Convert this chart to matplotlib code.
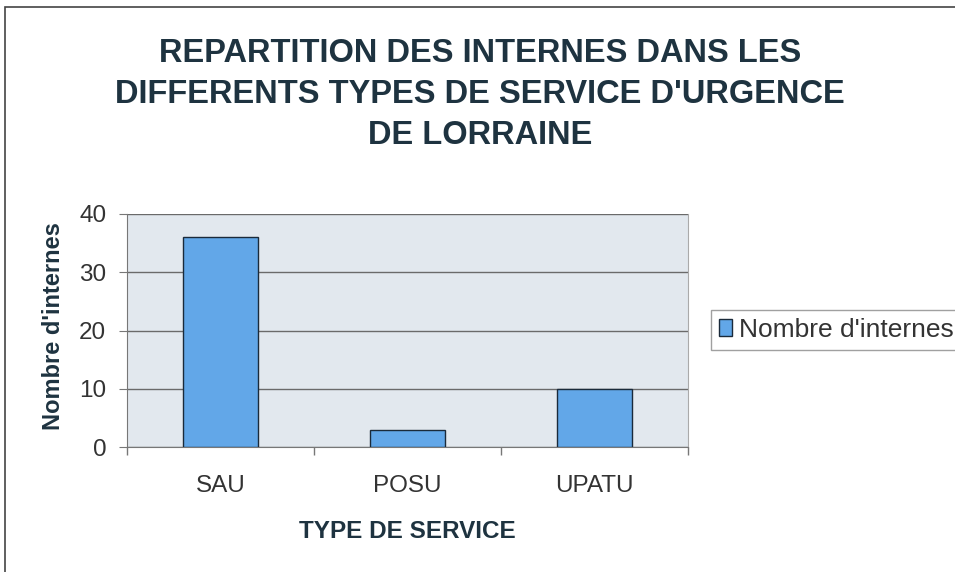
import matplotlib
matplotlib.use("Agg")
import matplotlib.pyplot as plt
from matplotlib.patches import Rectangle, Patch

categories = ["SAU", "POSU", "UPATU"]
values = [36, 3, 10]
yticks = [0, 10, 20, 30, 40]
series_name = "Nombre d'internes"
title = "REPARTITION DES INTERNES DANS LES\nDIFFERENTS TYPES DE SERVICE D'URGENCE\nDE LORRAINE"

plt.rcParams['font.family'] = ['Liberation Sans', 'DejaVu Sans']

fig = plt.figure(figsize=(9.55, 5.72), dpi=100)
fig.patch.set_facecolor('white')

# outer chart frame
fig.patches.append(Rectangle((5/955, -0.01), 1.1, 1 - 7/572 + 0.01, transform=fig.transFigure,
                             fill=False, edgecolor='#444444', linewidth=1.2))

ax = fig.add_axes([127/955, 1 - 447/572, (688 - 127)/955, (447 - 214)/572])
ax.set_facecolor('#e2e8ee')

x = list(range(len(categories)))
bars = ax.bar(x, values, width=0.4, color='#62a7e8', edgecolor='#1a2a3a', linewidth=1.0,
              zorder=3, label=series_name)

ax.set_xlim(-0.5, len(categories) - 0.5)
ax.set_ylim(0, 40)
ax.set_yticks(yticks)
ax.yaxis.grid(True, color='#6a6a6a', linewidth=1.0, zorder=1)
ax.set_axisbelow(True)

ax.set_xticks(x)
ax.set_xticklabels(categories, fontsize=17.5, color='#333333')
ax.tick_params(axis='x', length=0, pad=20)
ax.set_xticks([-0.5, 0.5, 1.5, 2.5], minor=True)
ax.tick_params(axis='x', which='minor', length=6, color='#777777', width=1)
ax.tick_params(axis='y', length=6, color='#777777', labelsize=17.5, labelcolor='#333333', pad=9)

ax.spines['top'].set_visible(False)
ax.spines['right'].set_color('#aaaaaa')
ax.spines['left'].set_color('#777777')
ax.spines['bottom'].set_color('#777777')

ax.set_ylabel("Nombre d'internes", fontsize=17, fontweight='bold', color='#1e3340')
ax.yaxis.set_label_coords(-0.11, 0.52)
ax.set_xlabel("TYPE DE SERVICE", fontsize=17.5, fontweight='bold', color='#1e3340', labelpad=17)

fig.text(0.503, 1 - 38/572, title, ha='center', va='top', fontsize=23.5, fontweight='bold',
         color='#1e3340', linespacing=1.42)

handle = Patch(facecolor='#62a7e8', edgecolor='#1a2a3a', linewidth=1.0)
leg = fig.legend([handle], [series_name], loc='center left', bbox_to_anchor=(711/955, 1 - 330/572),
                 fontsize=19, frameon=True, fancybox=False, edgecolor='#888888',
                 handlelength=0.5, handleheight=0.6, handletextpad=0.25, borderpad=0.3,
                 borderaxespad=0)
leg.get_frame().set_linewidth(1.0)
for t in leg.get_texts():
    t.set_color('#333333')

fig.savefig("out.png", dpi=100, facecolor='white')
